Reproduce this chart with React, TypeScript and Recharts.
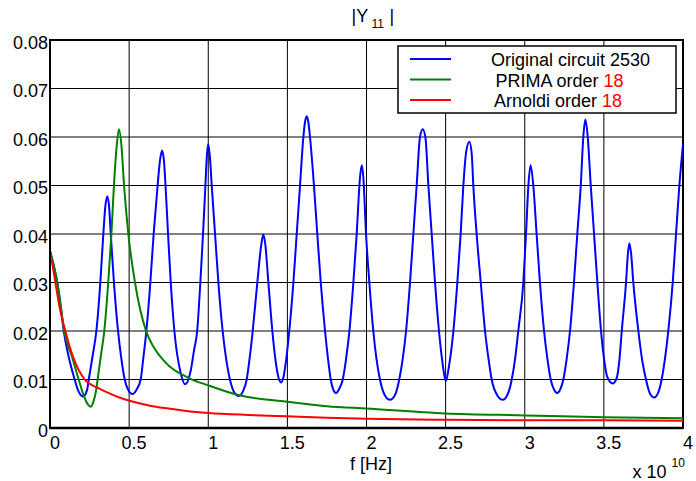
import React from 'react';
import { LineChart, Line, XAxis, YAxis, CartesianGrid, ReferenceArea } from 'recharts';

// frequency in units of 1e10 Hz, |Y11| in S
const originalCircuit: [number, number][] = [
  [0, 0.0365], [0.025, 0.0333], [0.046, 0.03], [0.068, 0.025], [0.087, 0.02], [0.118, 0.0147],
  [0.156, 0.01], [0.177, 0.0078], [0.209, 0.0065], [0.234, 0.0078], [0.245, 0.01], [0.27, 0.015],
  [0.293, 0.02], [0.318, 0.03], [0.337, 0.04], [0.35, 0.0458], [0.362, 0.0478], [0.373, 0.0458],
  [0.384, 0.04], [0.404, 0.03], [0.43, 0.02], [0.448, 0.015], [0.472, 0.01], [0.495, 0.0078],
  [0.52, 0.007], [0.545, 0.0078], [0.573, 0.01], [0.59, 0.0145], [0.609, 0.02], [0.634, 0.03],
  [0.655, 0.04], [0.68, 0.05], [0.695, 0.0552], [0.708, 0.0572], [0.72, 0.0552], [0.73, 0.05],
  [0.746, 0.04], [0.763, 0.03], [0.786, 0.02], [0.826, 0.0113], [0.855, 0.009], [0.889, 0.0118],
  [0.91, 0.016], [0.93, 0.02], [0.95, 0.03], [0.967, 0.04], [0.982, 0.05], [0.991, 0.056],
  [1.0, 0.0585], [1.01, 0.056], [1.022, 0.05], [1.043, 0.04], [1.064, 0.03], [1.091, 0.02],
  [1.112, 0.0145], [1.137, 0.01], [1.165, 0.0073], [1.194, 0.0066], [1.22, 0.0076], [1.243, 0.01],
  [1.262, 0.0145], [1.281, 0.02], [1.31, 0.03], [1.336, 0.038], [1.348, 0.0399], [1.36, 0.038],
  [1.38, 0.03], [1.405, 0.02], [1.425, 0.014], [1.443, 0.0105], [1.46, 0.0094], [1.474, 0.0103],
  [1.492, 0.014], [1.512, 0.02], [1.538, 0.03], [1.559, 0.04], [1.58, 0.05], [1.601, 0.06],
  [1.612, 0.0632], [1.622, 0.0643], [1.632, 0.0632], [1.643, 0.06], [1.668, 0.05], [1.689, 0.04],
  [1.711, 0.03], [1.738, 0.02], [1.756, 0.0145], [1.774, 0.01], [1.79, 0.0079], [1.807, 0.0072],
  [1.828, 0.0081], [1.85, 0.01], [1.872, 0.0145], [1.892, 0.02], [1.917, 0.03], [1.938, 0.04],
  [1.959, 0.0517], [1.97, 0.0542], [1.98, 0.0517], [1.997, 0.04], [2.018, 0.03], [2.043, 0.02],
  [2.062, 0.0145], [2.085, 0.01], [2.115, 0.0068], [2.148, 0.0058], [2.18, 0.0068], [2.207, 0.01],
  [2.23, 0.0145], [2.25, 0.02], [2.275, 0.03], [2.296, 0.04], [2.317, 0.05], [2.338, 0.06],
  [2.355, 0.0616], [2.372, 0.06], [2.391, 0.05], [2.412, 0.04], [2.433, 0.03], [2.458, 0.02],
  [2.478, 0.014], [2.496, 0.0102], [2.502, 0.0097], [2.52, 0.0125], [2.549, 0.02], [2.574, 0.03],
  [2.595, 0.04], [2.612, 0.05], [2.63, 0.057], [2.65, 0.059], [2.665, 0.0565], [2.675, 0.05],
  [2.696, 0.04], [2.722, 0.03], [2.749, 0.02], [2.77, 0.0145], [2.791, 0.01], [2.825, 0.0068],
  [2.861, 0.0058], [2.89, 0.0068], [2.918, 0.01], [2.94, 0.0145], [2.959, 0.02], [2.991, 0.03],
  [3.008, 0.04], [3.023, 0.05], [3.037, 0.0542], [3.054, 0.05], [3.075, 0.04], [3.096, 0.03],
  [3.122, 0.02], [3.142, 0.0145], [3.164, 0.01], [3.185, 0.0079], [3.206, 0.0072], [3.225, 0.008],
  [3.244, 0.01], [3.266, 0.0145], [3.286, 0.02], [3.311, 0.03], [3.332, 0.04], [3.354, 0.05],
  [3.37, 0.06], [3.383, 0.0636], [3.398, 0.06], [3.417, 0.05], [3.438, 0.04], [3.459, 0.03],
  [3.482, 0.02], [3.502, 0.014], [3.522, 0.0105], [3.556, 0.0092], [3.581, 0.0103], [3.598, 0.014],
  [3.613, 0.02], [3.64, 0.03], [3.652, 0.036], [3.661, 0.0381], [3.672, 0.036], [3.686, 0.03],
  [3.718, 0.02], [3.742, 0.014], [3.766, 0.01], [3.79, 0.0072], [3.817, 0.0063], [3.842, 0.0072],
  [3.865, 0.01], [3.887, 0.0145], [3.907, 0.02], [3.935, 0.03], [3.956, 0.04], [3.977, 0.05],
  [4.0, 0.0585],
];

const primaOrder18: [number, number][] = [
  [0, 0.0365], [0.025, 0.0333], [0.046, 0.03], [0.068, 0.025], [0.09, 0.02], [0.139, 0.0147],
  [0.181, 0.01], [0.215, 0.0065], [0.24, 0.0048], [0.257, 0.0044], [0.275, 0.0055], [0.29, 0.0075],
  [0.301, 0.01], [0.322, 0.015], [0.343, 0.02], [0.368, 0.03], [0.388, 0.04], [0.404, 0.05],
  [0.421, 0.058], [0.436, 0.0616], [0.452, 0.058], [0.468, 0.05], [0.495, 0.04], [0.537, 0.03],
  [0.607, 0.02], [0.653, 0.0168], [0.716, 0.014], [0.885, 0.0102], [1.0, 0.0088], [1.19, 0.0068],
  [1.5, 0.0054], [1.75, 0.0045], [2.0, 0.004], [2.5, 0.003], [3.0, 0.0026], [3.5, 0.0022],
  [4.0, 0.002],
];

const arnoldiOrder18: [number, number][] = [
  [0, 0.0365], [0.015, 0.0338], [0.034, 0.03], [0.063, 0.0245], [0.097, 0.02], [0.145, 0.0147],
  [0.219, 0.01], [0.3, 0.0083], [0.379, 0.0071], [0.43, 0.0064], [0.514, 0.0055], [0.632, 0.0046],
  [0.75, 0.004], [0.885, 0.0034], [1.0, 0.0031], [1.25, 0.0027], [1.5, 0.0024], [1.75, 0.0021],
  [2.0, 0.0019], [2.5, 0.0017], [3.0, 0.0016], [3.5, 0.0016], [4.0, 0.0015],
];

const xTicks = [0, 0.5, 1, 1.5, 2, 2.5, 3, 3.5, 4];
const yTicks = [0, 0.01, 0.02, 0.03, 0.04, 0.05, 0.06, 0.07, 0.08];

const FONT = '"Liberation Sans", Arial, sans-serif';

const toRows = (pts: [number, number][]) => pts.map(([f, v]) => ({ f, v }));

const XTick = (props: any) => {
  const { x, y, payload } = props;
  return (
    <text x={x + 5} y={y + 21} textAnchor="middle" fontSize={18} fontFamily={FONT} fill="#000">
      {payload.value === 0 ? '0' : String(payload.value)}
    </text>
  );
};

const YTick = (props: any) => {
  const { x, y, payload } = props;
  return (
    <text x={x} y={y + 8.5} textAnchor="end" fontSize={18} fontFamily={FONT} fill="#000">
      {payload.value === 0 ? '0' : payload.value.toFixed(2)}
    </text>
  );
};

const App: React.FC = () => {
  return (
    <div style={{ position: 'absolute', left: 0, top: 0, width: 696, height: 481, background: '#fff' }}>
      <LineChart width={696} height={481} margin={{ top: 40, right: 13, bottom: 0, left: 0 }}>
        <CartesianGrid stroke="#000" strokeWidth={1} />
        <XAxis
          dataKey="f"
          type="number"
          domain={[0, 4]}
          ticks={xTicks}
          height={53}
          tickSize={0}
          tickMargin={0}
          tickLine={false}
          axisLine={{ stroke: '#000', strokeWidth: 2.5 }}
          tick={<XTick />}
          allowDataOverflow
        />
        <YAxis
          type="number"
          domain={[0, 0.08]}
          ticks={yTicks}
          width={50}
          tickSize={0}
          tickMargin={2}
          tickLine={false}
          axisLine={{ stroke: '#000', strokeWidth: 2 }}
          tick={<YTick />}
          allowDataOverflow
        />
        <Line data={toRows(originalCircuit)} dataKey="v" type="monotone" stroke="#0000ff" strokeWidth={2} dot={false} isAnimationActive={false} />
        <Line data={toRows(primaOrder18)} dataKey="v" type="monotone" stroke="#008000" strokeWidth={2} dot={false} isAnimationActive={false} />
        <Line data={toRows(arnoldiOrder18)} dataKey="v" type="monotone" stroke="#ff0000" strokeWidth={2} dot={false} isAnimationActive={false} />
        <ReferenceArea x1={0} x2={4} y1={0} y2={0.08} fill="none" stroke="#000" strokeWidth={2} ifOverflow="visible" />
      </LineChart>
      <svg width={696} height={481} style={{ position: 'absolute', left: 0, top: 0, pointerEvents: 'none' }} fontFamily={FONT}>
        <text x={351.5} y={22} fontSize={18}>|Y</text>
        <text x={371.5} y={28} fontSize={12}>11</text>
        <text x={389.5} y={22} fontSize={18}>|</text>

        <rect x={398} y={46} width={278} height={67} fill="#fff" stroke="#000" strokeWidth={1.5} />
        <line x1={410} x2={451} y1={59} y2={59} stroke="#0000ff" strokeWidth={2} />
        <line x1={410} x2={451} y1={79.5} y2={79.5} stroke="#008000" strokeWidth={2} />
        <line x1={410} x2={451} y1={100} y2={100} stroke="#ff0000" strokeWidth={2} />
        <text x={491} y={66} fontSize={18}>Original circuit 2530</text>
        <text x={495.5} y={86.7} fontSize={18}>
          PRIMA order <tspan fill="#ff0000">18</tspan>
        </text>
        <text x={494} y={107.3} fontSize={18}>
          Arnoldi order <tspan fill="#ff0000">18</tspan>
        </text>

        <text x={350} y={470} fontSize={18}>f [Hz]</text>
        <text x={632.5} y={478} fontSize={18}>x 10</text>
        <text x={671.5} y={466.5} fontSize={12}>10</text>
      </svg>
    </div>
  );
};

export default App;
